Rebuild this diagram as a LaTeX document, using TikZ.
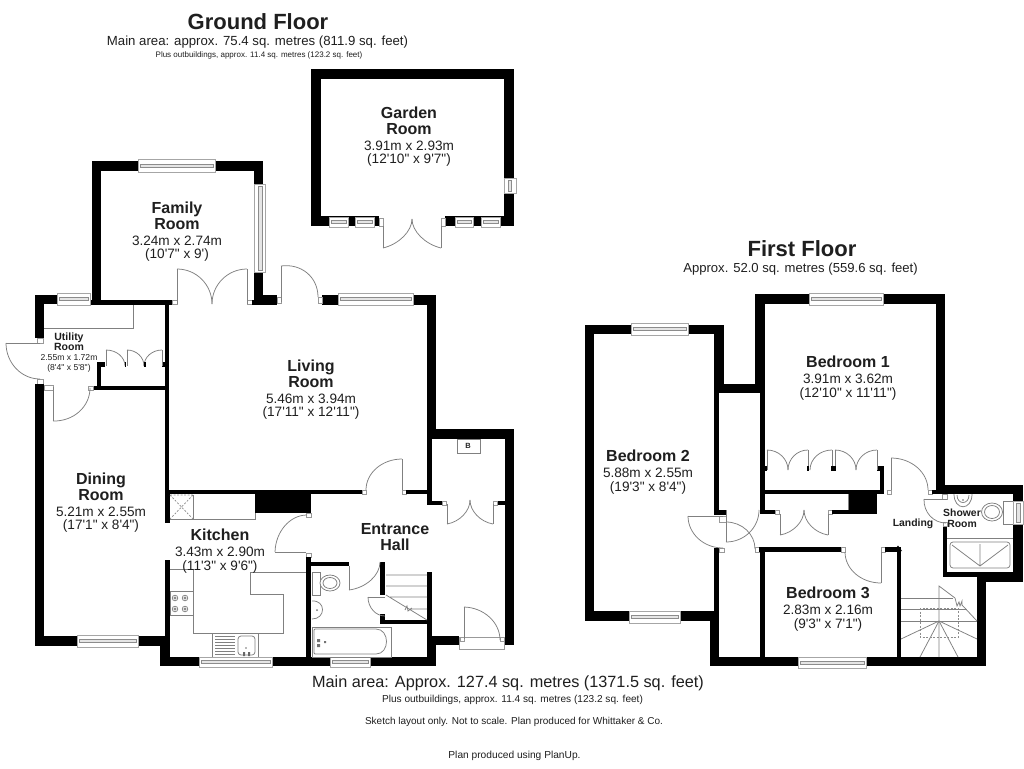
\documentclass[tikz,border=0pt]{standalone}
\usepackage{fontspec}
\newfontfamily\planfont{Liberation Sans}
\newcommand\wl[4]{\fill[wallfill] (#1,#2) rectangle (#3,#4);}
\newcommand\jb[4]{\filldraw[jambbox] (#1,#2) rectangle (#3,#4);}
\newcommand\hwin[4]{\filldraw[winbox] (#1,#2) rectangle (#3,#4);
  \pgfmathsetmacro\winmid{(#2+#4)/2}
  \filldraw[winstrip] ({#1+2},{\winmid-1.5}) rectangle ({#3-2},{\winmid+1.5});}
\newcommand\vwin[4]{\filldraw[winbox] (#1,#2) rectangle (#3,#4);
  \pgfmathsetmacro\winmid{(#1+#3)/2}
  \filldraw[winstrip] ({\winmid-1.5},{#2+2}) rectangle ({\winmid+1.5},{#4-2});}
% quarter arc: A (1,2), centre (3,4), B (5,6)
\newcommand\qarc[6]{%
  \pgfmathsetmacro\qxa{#1+.5523*(#5-#3)}\pgfmathsetmacro\qya{#2+.5523*(#6-#4)}%
  \pgfmathsetmacro\qxb{#5+.5523*(#1-#3)}\pgfmathsetmacro\qyb{#6+.5523*(#2-#4)}%
  \draw[planline] (#1,#2) .. controls (\qxa,\qya) and (\qxb,\qyb) .. (#5,#6);}
% door: hinge (1,2), leaf end (3,4), arc end (5,6)
\newcommand\door[6]{\draw[planline] (#1,#2) -- (#3,#4);\qarc{#3}{#4}{#1}{#2}{#5}{#6}}
\newcommand\rn[1]{{\fontsize{16}{16}\selectfont\bfseries #1}}
\newcommand\rs[1]{{\fontsize{10.5}{10.5}\selectfont\bfseries #1}}
\begin{document}
\begin{tikzpicture}[x=1pt,y=-1pt,
  wallfill/.style={fill=black},
  jambbox/.style={fill=white,draw=black!40,line width=.7pt},
  winbox/.style={fill=white,draw=black!35,line width=.7pt},
  winstrip/.style={fill=black!10,draw=black!45,line width=.6pt},
  planline/.style={draw=black!50,line width=.75pt},
  dashline/.style={draw=black!45,line width=.7pt,dash pattern=on 2pt off 1.5pt},
  room/.style={align=center,inner sep=0pt,text=black!88,font=\fontsize{13.6}{16}\planfont},
  roomsm/.style={align=center,inner sep=0pt,text=black!88,font=\fontsize{8.6}{10}\planfont},
  tag/.style={align=center,inner sep=0pt,text=black!88,font=\fontsize{10.4}{11}\planfont\bfseries},
  capt/.style={inner sep=0pt,text=black!88},
]
\useasboundingbox (0,0) rectangle (1024,768);
\fill[white] (0,0) rectangle (1024,768);

%%% GARDEN ROOM
\wl{311}{69}{514}{79}
\wl{311}{69}{321}{226}
\wl{504}{69}{514}{226}
\wl{311}{216}{379}{226}
\wl{445}{216}{514}{226}
\hwin{329}{217}{348}{227}
\hwin{355}{217}{374}{227}
\hwin{455}{217}{473}{227}
\hwin{481}{217}{500}{227}
\vwin{504}{178}{516}{193}
\jb{379}{218}{383}{226}
\jb{441}{218}{445}{226}
\door{383}{226}{383}{248}{412}{219}
\door{441}{226}{441}{248}{412}{219}

%%% FAMILY ROOM
\wl{92}{161}{263}{171}
\wl{92}{161}{101}{305}
\wl{254}{161}{263}{305}
\hwin{138}{159}{215}{172}
\filldraw[winbox] (254,184) rectangle (265,272);
\filldraw[winstrip] (258,186) rectangle (262,270);
\wl{90}{300}{172}{305}
\jb{172}{300}{177}{304}
\jb{247}{300}{252}{304}
\wl{252}{300}{263}{305}
\wl{263}{295}{277}{305}
\door{177}{304}{177}{269}{212}{304}
\door{247}{304}{247}{269}{212}{304}

%%% LIVING ROOM
\wl{322}{295}{436}{305}
\wl{427}{295}{436}{439}
\hwin{338}{293}{413}{305}
\jb{277}{297}{281}{303}
\jb{318}{297}{322}{303}
\door{281}{302}{281}{266}{318}{297}
\wl{165}{300}{169}{494}
\wl{165}{490}{362}{494}
\jb{362}{490}{366}{494}
\jb{402}{490}{406}{494}
\wl{406}{490}{427}{494}
\door{402}{490}{402}{459}{366}{490}

%%% UTILITY ROOM
\wl{35}{295}{44}{338}
\wl{35}{295}{57}{304}
\hwin{57}{293}{90}{305}
\jb{37}{338}{43}{343}
\jb{37}{379}{43}{384}
\wl{35}{384}{44}{646}
\door{40}{343}{6}{343}{40}{379}
\draw[planline] (44,328) -- (133,328) -- (133,305);
\wl{97}{362}{101}{390}
\wl{97}{362}{105}{367}
\wl{93}{386}{165}{390}
\wl{162}{362}{165}{367}
\door{106}{366}{106}{350}{125}{366}
\door{127}{366}{127}{350}{144}{366}
\door{162}{366}{162}{350}{144}{366}
\wl{124.5}{362}{126}{367}
\wl{144}{362}{145.5}{367}
\jb{88}{386}{93}{390}
\jb{44}{385}{53}{390}
\door{53}{387}{53}{421}{90}{388}

%%% DINING ROOM
\wl{35}{636}{165}{646}
\hwin{77}{635}{138}{647}
\wl{165}{560}{170}{666}
\wl{160}{636}{170}{666}

%%% KITCHEN
\wl{165}{490}{170}{523}
\wl{160}{657}{330}{666}
\hwin{199}{657}{272}{667}
\draw[planline] (170,519) -- (255,519) -- (255,494);
\draw[planline] (193,495) -- (193,519);
\draw[dashline] (170,495) -- (193,519) (193,495) -- (170,519) (170,495) -- (193,495);
\wl{255}{490}{311}{513}
\jb{306}{513}{311}{517}
\jb{306}{553}{311}{557}
\door{306}{552}{275}{552}{307}{515}
\draw[planline] (170,569) -- (193,569) -- (193,633) -- (283,633) -- (283,594) -- (250,594) -- (250,572) -- (306,572);
\draw[planline] (170,591) rectangle (193,615);
\foreach \hx in {175,185} \foreach \hy in {598,609} {
  \draw[planline] (\hx,\hy) circle (2.8);
  \draw[planline] (\hx,\hy) circle (1.2);
}
\draw[planline] (212,633) -- (212,657) (258,633) -- (258,657);
\foreach \dy in {636,639,...,654} \draw[draw=black!50,line width=.6pt] (215,\dy) -- (235,\dy);
\draw[planline,rounded corners=3pt] (238,636) rectangle (255,655);
\fill[black!55] (246,648) circle (.8);
\fill[black!60] (243,652) rectangle (245,656) (248,652) rectangle (250,656);

%%% BATHROOM
\wl{306}{557}{311}{666}
\wl{306}{562}{349}{566}
\wl{380}{562}{385}{595}
\door{349}{566}{349}{590}{380}{562}
\wl{311}{657}{436}{666}
\hwin{330}{657}{370}{667}
\draw[planline] (312,572) rectangle (320,595);
\draw[planline,fill=white] (330,583) ellipse (10 and 8);
\draw[planline] (330,583) ellipse (7 and 5.5);
\draw[planline] (312,601) .. controls (326,600) and (326,619) .. (312,619);
\fill[black!55] (317,610) circle (1);
\draw[planline] (312,627) rectangle (391,657);
\draw[planline,rounded corners=1pt] (314,629) -- (314,654) -- (375,654) .. controls (390,654) and (390,629) .. (375,629) -- cycle;
\fill[black!55] (317,639) rectangle (320,642) (317,644) rectangle (320,647) (324,641) rectangle (326,643);

%%% STAIRS ground
\wl{380}{614}{385}{624}
\wl{380}{620}{427}{624}
\wl{427}{572}{432}{645}
\door{385}{597}{368}{597}{385}{616}
\draw[planline] (386,575) -- (427,575) (386,586) -- (427,586) (386,595) -- (427,620) (390,597) -- (427,597) (409,609) -- (427,609);
\draw[planline] (405,610) -- (407,606) -- (408,611) -- (412,608);

%%% ENTRANCE HALL / CLOSET
\wl{427}{429}{514}{439}
\wl{505}{429}{514}{645}
\wl{427}{429}{432}{505}
\wl{427}{501}{442}{505}
\wl{497}{501}{505}{505}
\jb{442}{501}{446}{505}
\jb{493}{501}{497}{505}
\door{447}{504}{447}{524}{470}{500}
\door{493}{504}{493}{524}{470}{500}
\draw[planline] (457,439) rectangle (480,453);
\node[inner sep=0pt,text=black!85,font=\fontsize{7.5}{8}\planfont\bfseries] (boiler) at (468,446) {B};
\wl{427}{636}{459}{645}
\wl{427}{636}{436}{666}
\filldraw[jambbox] (459,637) rectangle (504,649);
\jb{460}{637}{464}{641}
\jb{500}{637}{504}{641}
\door{464}{639}{464}{607}{500}{640}

%%% FIRST FLOOR: BEDROOM 2
\wl{585}{325}{724}{334}
\wl{585}{325}{594}{621}
\hwin{631}{323}{688}{335}
\wl{714}{325}{724}{393}
\wl{714}{393}{719}{510}
\wl{714}{510}{726}{515}
\wl{714}{548}{719}{621}
\wl{585}{611}{719}{621}
\hwin{629}{611}{680}{623}
\wl{710}{611}{719}{666}
\jb{719}{516}{726}{522}
\jb{719}{548}{724}{552}
\door{723}{516}{688}{516}{723}{548}
\draw[planline] (726,510) -- (726,542);
\qarc{726}{542}{726}{510}{759}{510}
\qarc{726}{522}{726}{549}{755}{549}
\jb{755}{547}{759}{552}

%%% BEDROOM 1
\wl{755}{294}{945}{304}
\wl{755}{294}{765}{393}
\wl{719}{384}{765}{393}
\wl{760}{393}{765}{514}
\wl{936}{294}{945}{494}
\hwin{809}{293}{883}{305}
\wl{760}{490}{884}{494}
\wl{880}{466}{884}{494}
\wl{877}{466}{884}{471}
\wl{765}{466}{767}{471}
\door{767}{470}{767}{450}{788}{470}
\door{808}{470}{808}{450}{788}{470}
\door{832}{470}{832}{450}{810}{470}
\door{835}{470}{835}{450}{856}{470}
\door{877}{470}{877}{450}{856}{470}
\wl{807}{466}{809}{471}
\wl{831}{466}{836}{471}
\jb{887}{490}{891}{494}
\jb{928}{490}{932}{494}
\door{891}{490}{891}{458}{928}{490}

%%% LANDING CUPBOARD
\wl{760}{510}{775}{514}
\jb{775}{510}{779}{514}
\jb{828}{510}{832}{514}
\wl{832}{510}{848}{514}
\wl{848}{494}{877}{514}
\draw[planline] (848,494) -- (848,510);
\door{780}{514}{780}{535}{804}{510}
\door{828}{514}{828}{535}{804}{510}

%%% BEDROOM 3
\wl{759}{547}{841}{552}
\wl{760}{547}{765}{666}
\wl{710}{657}{986}{666}
\hwin{798}{657}{866}{668}
\jb{841}{547}{845}{552}
\jb{881}{547}{885}{552}
\wl{885}{547}{901}{552}
\fill[black] (894,551) -- (898,545.5) -- (902,551) -- cycle;
\wl{897}{547}{901}{666}
\door{881}{552}{881}{583}{845}{552}

%%% SHOWER ROOM
\wl{932}{490}{936}{494}
\wl{936}{485}{1023}{494}
\wl{1013}{485}{1023}{582}
\wl{977}{572}{1023}{582}
\wl{943}{572}{986}{577}
\wl{943}{526}{947}{577}
\wl{977}{572}{986}{666}
\jb{943}{522}{947}{526}
\jb{942}{494}{947}{499}
\door{947}{499}{924}{499}{946}{523}
\draw[planline] (947,538) -- (1013,538);
\draw[planline,rounded corners=3pt] (950,542) rectangle (1010,568);
\draw[planline] (980,566) -- (952,545) (980,566) -- (980,544) (980,566) -- (1008,545);
\draw[planline] (954,494) .. controls (954,511) and (972,511) .. (972,494);
\draw[planline] (957,495) .. controls (957,505) and (969,505) .. (969,495);
\fill[black!60] (963,500) circle (.8);
\draw[planline] (992,512) ellipse (10.5 and 9);
\draw[planline] (992,512) ellipse (7.5 and 6.5);
\draw[planline] (1003,501) rectangle (1013,524);
\filldraw[winbox] (1013,501) rectangle (1023,524);
\filldraw[winstrip] (1016,503) rectangle (1020,522);

%%% STAIRS first floor
\draw[planline] (901,598) -- (953,598) (901,609) -- (967,609) (901,621) -- (977,621);
\draw[planline] (939,657) -- (939,586) -- (955,598) (955,598) -- (957,606) -- (959,602) -- (960,606) -- (962,601) -- (962,605) -- (977,621);
\draw[planline] (939,621) -- (901,639) (939,621) -- (920,657) (939,621) -- (958,657) (939,621) -- (977,639);
\draw[dashline] (920,608) rectangle (958,637);

%%% TEXT
\node[capt,font=\fontsize{22}{24}\planfont\bfseries] (gftitle) at (258,21.5) {Ground Floor};
\node[capt,font=\fontsize{13.2}{15}\planfont] (gfarea) at (257.5,42) {Main area: approx. 75.4 sq. metres (811.9 sq. feet)};
\node[capt,font=\fontsize{8}{9}\planfont] (gfplus) at (259,55) {Plus outbuildings, approx. 11.4 sq. metres (123.2 sq. feet)};
\node[capt,font=\fontsize{22}{24}\planfont\bfseries] (fftitle) at (802,248.5) {First Floor};
\node[capt,font=\fontsize{13.1}{15}\planfont] (ffarea) at (800.5,269.5) {Approx. 52.0 sq. metres (559.6 sq. feet)};
\node[capt,font=\fontsize{16.25}{19}\planfont] (area) at (508,683.5) {Main area: Approx. 127.4 sq. metres (1371.5 sq. feet)};
\node[capt,font=\fontsize{10.1}{12}\planfont] (plus) at (512.5,699.5) {Plus outbuildings, approx. 11.4 sq. metres (123.2 sq. feet)};
\node[capt,font=\fontsize{10}{12}\planfont] (sketch) at (514,721.5) {Sketch layout only. Not to scale. Plan produced for Whittaker \& Co.};
\node[capt,font=\fontsize{10.2}{12}\planfont] (planup) at (514.5,755.5) {Plan produced using PlanUp.};

\node[room] (garden) at (409,137) {\rn{Garden}\\\rn{Room}\\3.91m x 2.93m\\[-3pt](12'10" x 9'7")};
\node[room] (family) at (177,232) {\rn{Family}\\\rn{Room}\\3.24m x 2.74m\\[-3pt](10'7" x 9')};
\node[roomsm] (utility) at (69,352.5) {\rs{Utility}\\\rs{Room}\\2.55m x 1.72m\\(8'4" x 5'8")};
\node[room] (living) at (311,390) {\rn{Living}\\\rn{Room}\\5.46m x 3.94m\\[-3pt](17'11" x 12'11")};
\node[room] (dining) at (101,503) {\rn{Dining}\\\rn{Room}\\5.21m x 2.55m\\[-3pt](17'1" x 8'4")};
\node[room] (kitchen) at (220,551.5) {\rn{Kitchen}\\3.43m x 2.90m\\[-2pt](11'3" x 9'6")};
\node[room] (entrance) at (395,537) {\rn{Entrance}\\\rn{Hall}};
\node[room] (bed1) at (848,378) {\rn{Bedroom 1}\\3.91m x 3.62m\\[-2pt](12'10" x 11'11")};
\node[room] (bed2) at (648,472.5) {\rn{Bedroom 2}\\5.88m x 2.55m\\[-2pt](19'3" x 8'4")};
\node[room] (bed3) at (828,609.5) {\rn{Bedroom 3}\\2.83m x 2.16m\\[-2pt](9'3" x 7'1")};
\node[tag] (landing) at (913,524) {Landing};
\node[tag] (shower) at (962,518) {Shower\\Room};
\end{tikzpicture}
\end{document}
